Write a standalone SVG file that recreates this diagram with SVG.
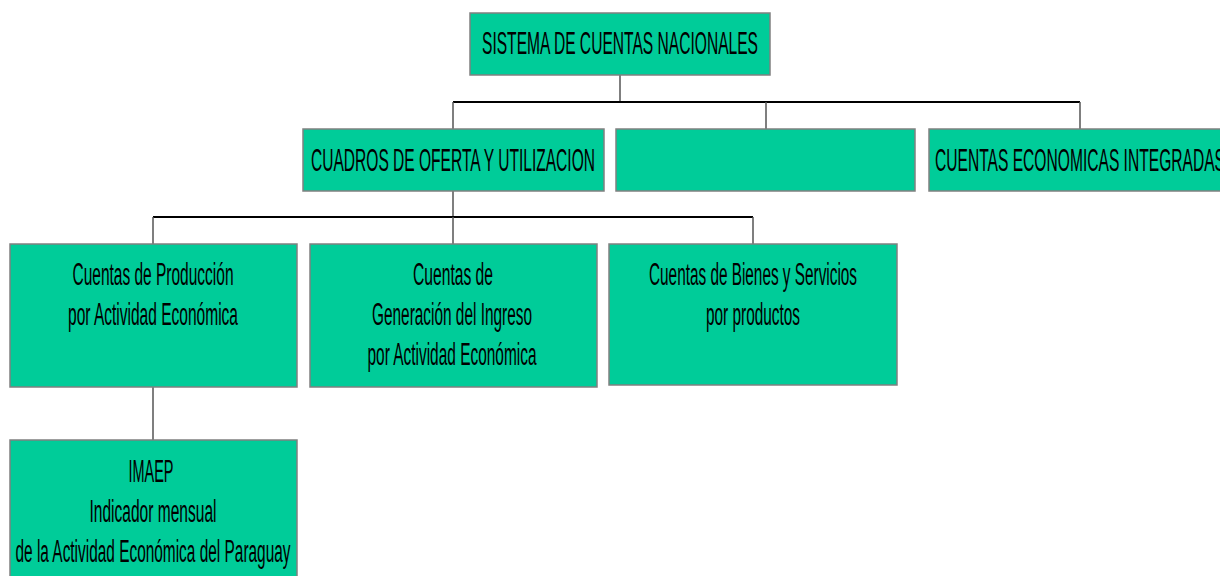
<svg xmlns="http://www.w3.org/2000/svg" width="1220" height="576" viewBox="0 0 1220 576">
<style>
.box{fill:#00CC99;stroke:#808080;stroke-width:1.5}
.t{font-family:"Liberation Sans",Arial,sans-serif;font-size:31px;fill:#000;text-anchor:middle}
.h{stroke:#000;stroke-width:2;fill:none}
.v{stroke:#555;stroke-width:1.5;fill:none}
</style>
<rect width="1220" height="576" fill="#fff"/>
<g id="connectors">
<line class="v" x1="620" y1="75" x2="620" y2="102"/>
<line class="h" x1="453" y1="102" x2="1080" y2="102"/>
<line class="v" x1="453" y1="102" x2="453" y2="129"/>
<line class="v" x1="766" y1="102" x2="766" y2="129"/>
<line class="v" x1="1080" y1="102" x2="1080" y2="129"/>
<line class="v" x1="453" y1="191" x2="453" y2="217"/>
<line class="h" x1="153" y1="217" x2="753" y2="217"/>
<line class="v" x1="153" y1="217" x2="153" y2="244"/>
<line class="v" x1="453" y1="217" x2="453" y2="244"/>
<line class="v" x1="753" y1="217" x2="753" y2="244"/>
<line class="v" x1="153" y1="387" x2="153" y2="440"/>
</g>
<g id="sistema">
<rect class="box" x="470" y="13" width="300" height="62"/>
<text class="t" x="620" y="54" textLength="276" lengthAdjust="spacingAndGlyphs">SISTEMA DE CUENTAS NACIONALES</text>
</g>
<g id="cuadros">
<rect class="box" x="303" y="129" width="301" height="62"/>
<text class="t" x="453" y="171" textLength="284" lengthAdjust="spacingAndGlyphs">CUADROS DE OFERTA Y UTILIZACION</text>
</g>
<g id="empty">
<rect class="box" x="616" y="129" width="299" height="62"/>
</g>
<g id="integradas">
<rect class="box" x="929" y="129" width="302" height="62"/>
<text class="t" x="1080" y="171" textLength="290" lengthAdjust="spacingAndGlyphs">CUENTAS ECONOMICAS INTEGRADAS</text>
</g>
<g id="produccion">
<rect class="box" x="10" y="244" width="287" height="143"/>
<text class="t" x="153" y="285" textLength="161" lengthAdjust="spacingAndGlyphs">Cuentas de Producción</text>
<text class="t" x="153" y="325" textLength="170" lengthAdjust="spacingAndGlyphs">por Actividad Económica</text>
</g>
<g id="generacion">
<rect class="box" x="310" y="244" width="287" height="143"/>
<text class="t" x="453" y="285" textLength="80" lengthAdjust="spacingAndGlyphs">Cuentas de</text>
<text class="t" x="452" y="325" textLength="160" lengthAdjust="spacingAndGlyphs">Generación del Ingreso</text>
<text class="t" x="452" y="365" textLength="169" lengthAdjust="spacingAndGlyphs">por Actividad Económica</text>
</g>
<g id="bienes">
<rect class="box" x="609" y="244" width="288" height="141"/>
<text class="t" x="753" y="285" textLength="208" lengthAdjust="spacingAndGlyphs">Cuentas de Bienes y Servicios</text>
<text class="t" x="753" y="325" textLength="94" lengthAdjust="spacingAndGlyphs">por productos</text>
</g>
<g id="imaep">
<rect class="box" x="10" y="440" width="287" height="142"/>
<text class="t" x="151" y="482" textLength="45" lengthAdjust="spacingAndGlyphs">IMAEP</text>
<text class="t" x="153" y="522" textLength="127" lengthAdjust="spacingAndGlyphs">Indicador mensual</text>
<text class="t" x="153" y="562" textLength="275" lengthAdjust="spacingAndGlyphs">de la Actividad Económica del Paraguay</text>
</g>
</svg>
